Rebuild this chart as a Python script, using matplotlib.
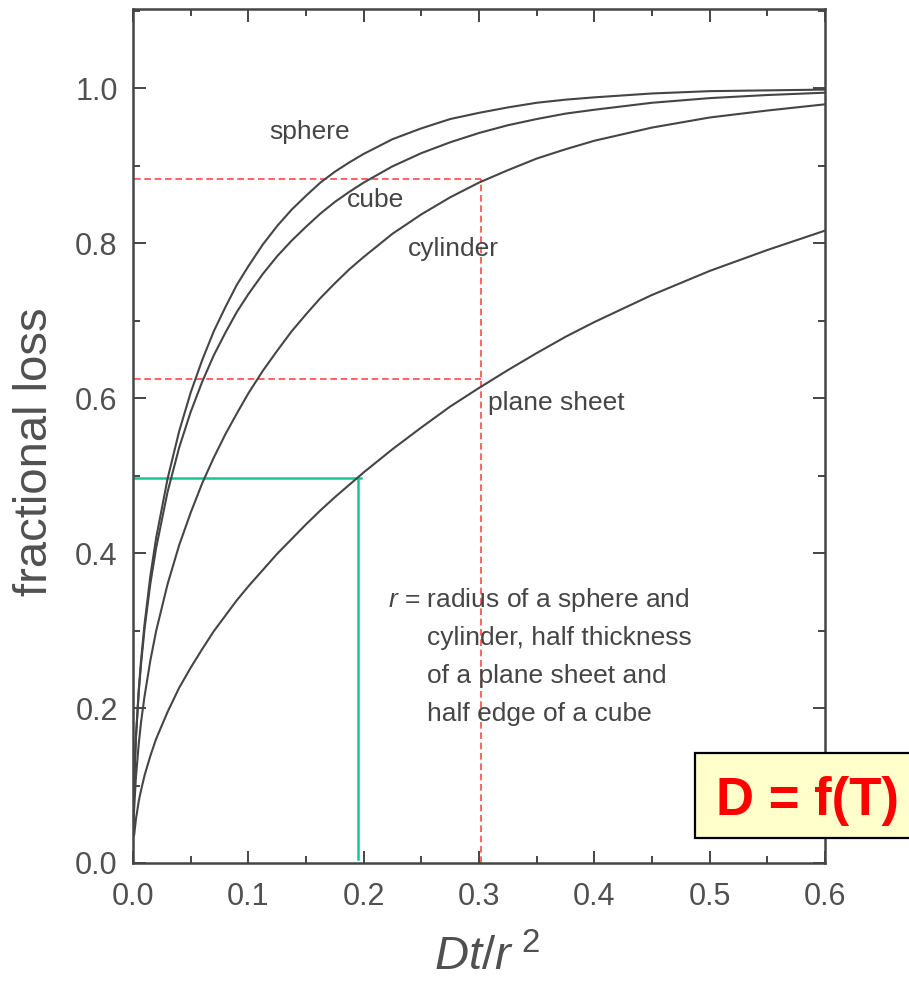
import matplotlib
matplotlib.use("Agg")
import matplotlib.pyplot as plt
from matplotlib.patches import Rectangle
from matplotlib.ticker import MultipleLocator

plt.rcParams['font.family'] = ['Liberation Sans', 'DejaVu Sans']
plt.rcParams['mathtext.fontset'] = 'custom'
plt.rcParams['mathtext.it'] = 'Liberation Sans:italic'
plt.rcParams['mathtext.rm'] = 'Liberation Sans'

# Dt/r^2 sample positions
t = [0.0, 0.001, 0.0025, 0.005, 0.007, 0.01, 0.015, 0.02, 0.03, 0.04,
     0.05, 0.06, 0.07, 0.08, 0.09, 0.10, 0.1125, 0.125, 0.1375, 0.15,
     0.1625, 0.175, 0.1875, 0.20, 0.225, 0.25, 0.275, 0.30, 0.325, 0.35,
     0.375, 0.40, 0.45, 0.50, 0.55, 0.60]

sphere = [0.035, 0.104, 0.162, 0.224, 0.262, 0.308, 0.370, 0.419, 0.496, 0.557,
          0.607, 0.649, 0.686, 0.717, 0.746, 0.770, 0.798, 0.822, 0.843, 0.861,
          0.878, 0.892, 0.904, 0.915, 0.934, 0.948, 0.960, 0.968, 0.975, 0.981,
          0.985, 0.988, 0.993, 0.996, 0.997, 0.998]
cube = [0.035, 0.103, 0.160, 0.221, 0.257, 0.302, 0.360, 0.406, 0.479, 0.536,
        0.582, 0.621, 0.655, 0.684, 0.711, 0.734, 0.760, 0.783, 0.803, 0.821,
        0.838, 0.853, 0.866, 0.878, 0.899, 0.916, 0.930, 0.942, 0.952, 0.960,
        0.967, 0.972, 0.981, 0.987, 0.991, 0.994]
cylinder = [0.035, 0.070, 0.110, 0.154, 0.182, 0.215, 0.261, 0.299, 0.360, 0.410,
            0.452, 0.490, 0.523, 0.553, 0.580, 0.606, 0.635, 0.661, 0.686, 0.708,
            0.729, 0.748, 0.766, 0.782, 0.812, 0.837, 0.859, 0.878, 0.894, 0.909,
            0.921, 0.932, 0.949, 0.962, 0.971, 0.979]
plane_sheet = [0.035, 0.036, 0.056, 0.080, 0.094, 0.113, 0.138, 0.160, 0.195, 0.226,
               0.252, 0.276, 0.299, 0.319, 0.339, 0.357, 0.378, 0.399, 0.418, 0.437,
               0.455, 0.472, 0.488, 0.504, 0.534, 0.562, 0.589, 0.613, 0.636, 0.658,
               0.679, 0.698, 0.733, 0.764, 0.791, 0.816]

curve_labels = ['sphere', 'cube', 'cylinder', 'plane sheet']
label_pos = [(0.1528, 0.943), (0.2106, 0.8555), (0.2778, 0.792), (0.3668, 0.5935)]

# guide lines
red_x = 0.3015
red_y = [0.883, 0.624]
green_x = 0.195
green_y = 0.4965

xticks = [0.0, 0.1, 0.2, 0.3, 0.4, 0.5, 0.6]
yticks = [0.0, 0.2, 0.4, 0.6, 0.8, 1.0]

note_lines = [r'$r$ = radius of a sphere and', 'cylinder, half thickness',
              'of a plane sheet and', 'half edge of a cube']

W, H = 909, 982
fig = plt.figure(figsize=(W / 100, H / 100), dpi=100)
ax = fig.add_axes([133 / W, 1 - 863 / H, (825 - 133) / W, (863 - 9) / H])

ink = '#454545'
for ys in (sphere, cube, cylinder, plane_sheet):
    ax.plot(t, ys, color=ink, lw=1.5, solid_capstyle='round',
            solid_joinstyle='round', zorder=3)

for (x, y), s in zip(label_pos, curve_labels):
    ax.text(x, y, s, fontsize=19, color=ink, ha='center', va='center', zorder=4)

red = '#ff4a4a'
for y in red_y:
    ax.plot([0.001, red_x], [y, y], color=red, lw=1.2, ls=(0, (4, 2.2)), zorder=2)
ax.plot([red_x, red_x], [0, red_y[0]], color=red, lw=1.2, ls=(0, (4, 2.2)), zorder=2)

green = '#14c896'
ax.plot([0.002, green_x + 0.003], [green_y, green_y], color=green, lw=1.8, zorder=2)
ax.plot([green_x, green_x], [0.005, green_y], color=green, lw=1.8, zorder=2)

ax.text(0.2215, 0.339, note_lines[0], fontsize=19, color=ink, ha='left', va='center')
for i, s in enumerate(note_lines[1:]):
    ax.text(0.2545, 0.290 - 0.049 * i, s, fontsize=19, color=ink, ha='left', va='center')

ax.set_xlim(0, 0.6)
ax.set_ylim(0, 1.102)
ax.set_xticks(xticks)
ax.set_yticks(yticks)
ax.set_xticklabels([f'{v:.1f}' for v in xticks])
ax.set_yticklabels([f'{v:.1f}' for v in yticks])
ax.xaxis.set_minor_locator(MultipleLocator(0.05))
ax.yaxis.set_minor_locator(MultipleLocator(0.1))
ax.tick_params(which='both', direction='in', top=True, right=True, colors=ink,
               width=1.4)
ax.tick_params(which='major', length=9, labelsize=22, labelcolor='#505050')
ax.tick_params(which='minor', length=5)
ax.tick_params(axis='x', which='major', pad=14)
ax.tick_params(axis='y', which='major', pad=11)
for sp in ax.spines.values():
    sp.set_color(ink)
    sp.set_linewidth(1.8)

fig.text(35 / W, 1 - 452 / H, 'fractional loss', rotation=90, fontsize=34,
         color='#505050', ha='center', va='center')
fig.text(487 / W, 1 - 970 / H, r'$Dt/r^{\ 2}$', fontsize=34, color='#505050',
         ha='center', va='baseline')

box = Rectangle((695 / W, 1 - 838 / H), (915 - 695) / W, (838 - 753) / H,
                transform=fig.transFigure, facecolor='#ffffcc', edgecolor='black',
                lw=1.6, zorder=5)
fig.patches.append(box)
fig.text(807 / W, 1 - 815 / H, 'D = f(T)', fontsize=38, fontweight='bold',
         color='#ff0000', ha='center', va='baseline', zorder=6)

fig.savefig('out.png', dpi=100)
